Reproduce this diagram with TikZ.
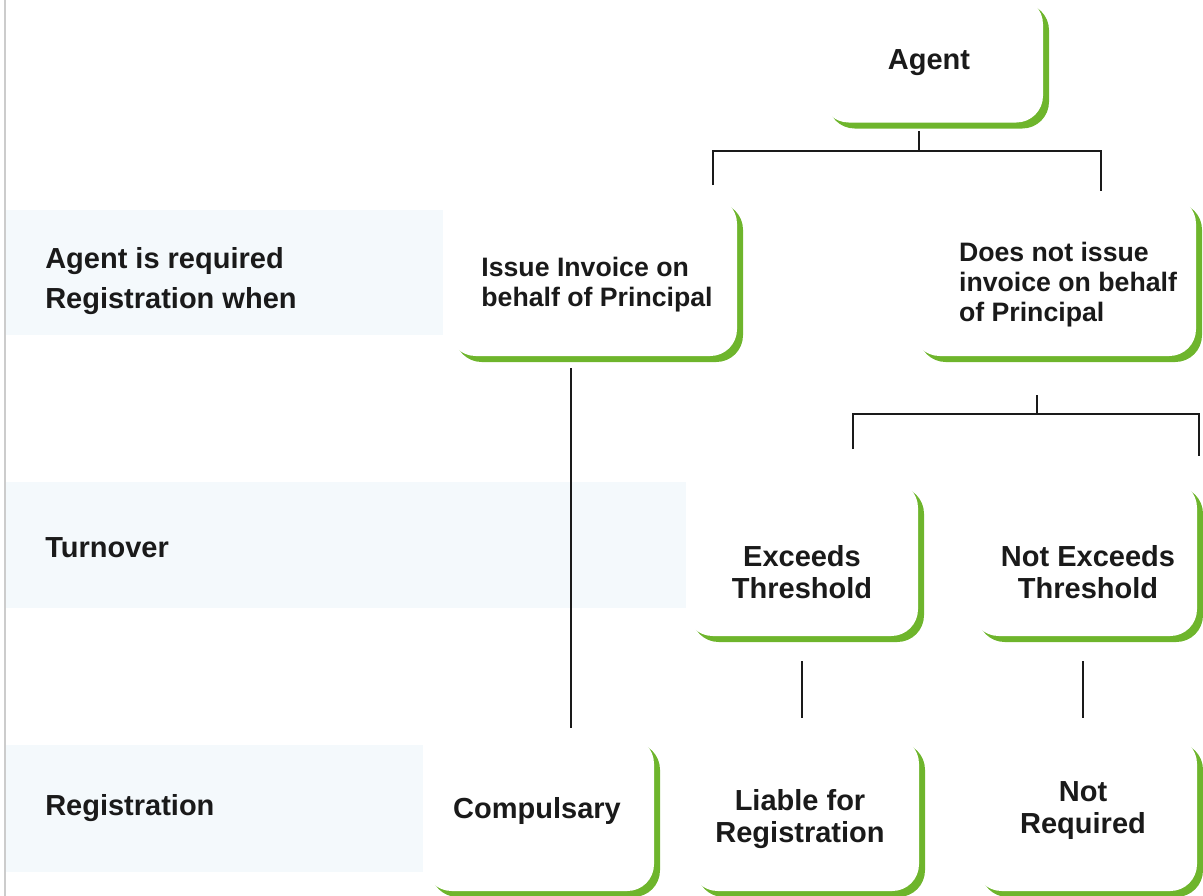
\documentclass[tikz,border=0pt]{standalone}
\usepackage{fontspec}
\setmainfont{Liberation Sans}
\usepackage{tikz}
\usetikzlibrary{shadows, positioning}
\definecolor{leafgreen}{RGB}{110, 181, 44}
\definecolor{bandblue}{RGB}{244, 249, 252}
\definecolor{inkblack}{RGB}{26, 26, 26}
\definecolor{edgegray}{RGB}{204, 204, 204}

\begin{document}
\begin{tikzpicture}[x=0.75pt, y=-0.75pt,
  card/.style={rounded corners=20pt, fill=white, inner sep=0pt,
    drop shadow={shadow xshift=4.5pt, shadow yshift=-4.5pt, fill=leafgreen, opacity=1}},
  cardtext/.style={font={\fontsize{21.75}{24}\selectfont\bfseries}, text=inkblack, align=center, inner sep=0pt},
  smalltext/.style={font={\fontsize{20}{22.5}\selectfont\bfseries}, text=inkblack, align=left, inner sep=0pt},
  rowtext/.style={font={\fontsize{21.75}{30}\selectfont\bfseries}, text=inkblack, align=left, anchor=west, inner sep=0pt},
  tree/.style={line width=1.7pt, inkblack}]
  \useasboundingbox (0,0) rectangle (1203,896);

  % Row bands and left rule
  \fill[bandblue] (5,210) rectangle (443,335);
  \fill[bandblue] (5,482) rectangle (686,608);
  \fill[bandblue] (5,745) rectangle (423,872);
  \draw[edgegray, line width=1.2pt] (5,0) -- (5,896);

  \node[rowtext] (rowagent) at (45,281) {Agent is required\\Registration when};
  \node[rowtext] (rowturn) at (45,548) {Turnover};
  \node[rowtext] (rowreg) at (45,808) {Registration};

  % Top level
  \node[card, minimum width=165.75pt, minimum height=93.75pt] (agent) at (932.5,60) {};
  \node[cardtext] (agenttxt) at (929,63) {Agent};

  % Invoice branch
  \node[card, minimum width=216pt, minimum height=119.25pt] (issue) at (593,276.5) {};
  \node[smalltext] (issuetxt) at (597,285) {Issue Invoice on\\behalf of Principal};
  \node[card, minimum width=212.25pt, minimum height=119.25pt] (noissue) at (1054.5,276.5) {};
  \node[smalltext] (noissuetxt) at (1068,285) {Does not issue\\invoice on behalf\\of Principal};

  % Turnover branch
  \node[card, minimum width=174pt, minimum height=116.25pt] (exceeds) at (802,558.5) {};
  \node[cardtext] (exceedstxt) at (802,572) {Exceeds\\Threshold};
  \node[card, minimum width=168.75pt, minimum height=116.25pt] (notexceeds) at (1084.5,558.5) {};
  \node[cardtext] (notexceedstxt) at (1088,572) {Not Exceeds\\Threshold};

  % Registration outcome
  \node[card, minimum width=171.75pt, minimum height=115.5pt] (compul) at (539.5,814) {};
  \node[cardtext] (compultxt) at (537,811) {Compulsary};
  \node[card, minimum width=171pt, minimum height=115.5pt] (liable) at (805,814) {};
  \node[cardtext] (liabletxt) at (800,819) {Liable for\\Registration};
  \node[card, minimum width=166.5pt, minimum height=115.5pt] (notreq) at (1086,814) {};
  \node[cardtext] (notreqtxt) at (1083,811) {Not\\Required};

  % Connector ends
  \coordinate (agentstem) at (919,131);
  \coordinate (agentfork) at (919,151);
  \coordinate (issuedrop) at (713,185);
  \coordinate (noissuedrop) at (1101,191);
  \coordinate (noissuestem) at (1037,395);
  \coordinate (noissuefork) at (1037,414);
  \coordinate (exceedsdrop) at (853,449);
  \coordinate (notexceedsdrop) at (1199,456);
  \coordinate (issuefoot) at (571,368);
  \coordinate (compulhead) at (571,728);
  \coordinate (exceedsfoot) at (802,661);
  \coordinate (liablehead) at (802,718);
  \coordinate (notexceedsfoot) at (1083,661);
  \coordinate (notreqhead) at (1083,718);

  % Tree lines
  \draw[tree] (agentstem) -- (agentfork);
  \draw[tree] (issuedrop) -- (issuedrop |- agentfork) -- (noissuedrop |- agentfork) -- (noissuedrop);
  \draw[tree] (noissuestem) -- (noissuefork);
  \draw[tree] (exceedsdrop) -- (exceedsdrop |- noissuefork) -- (notexceedsdrop |- noissuefork) -- (notexceedsdrop);
  \draw[tree] (issuefoot) -- (compulhead);
  \draw[tree] (exceedsfoot) -- (liablehead);
  \draw[tree] (notexceedsfoot) -- (notreqhead);
\end{tikzpicture}
\end{document}
